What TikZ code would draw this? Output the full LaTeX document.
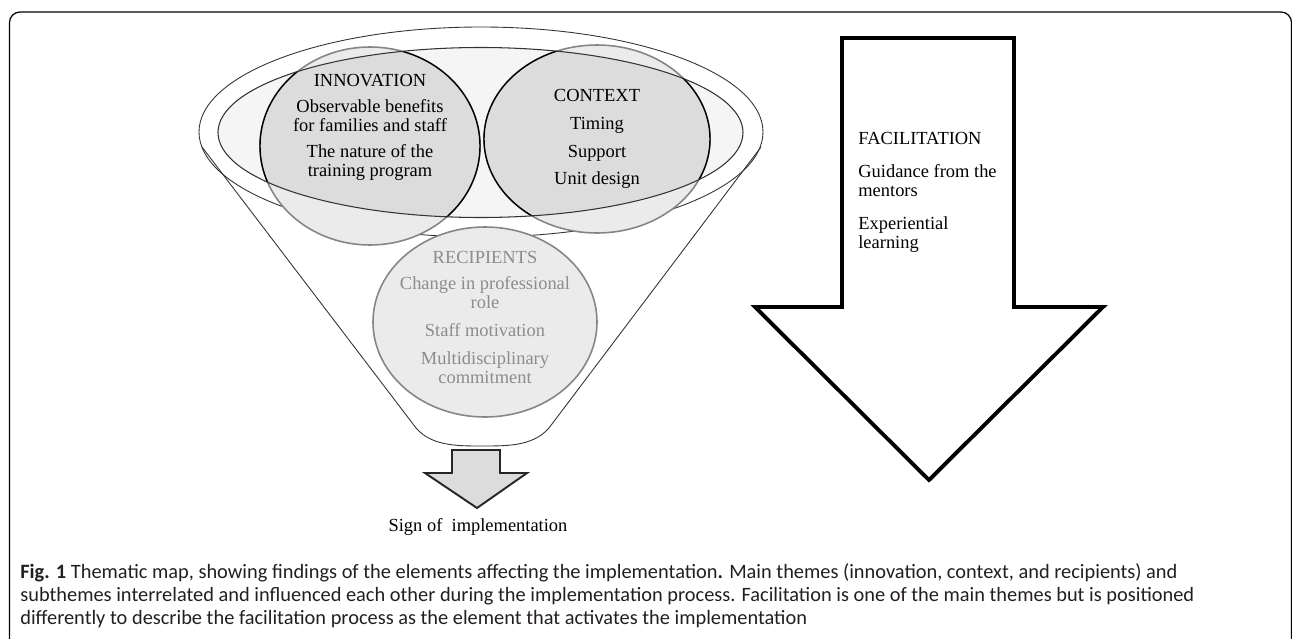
\documentclass[tikz,border=0pt]{standalone}
\usepackage{fontspec}
\setmainfont{Liberation Serif}
\newfontfamily\capfont{Carlito}
\usepackage{tikz}
\usetikzlibrary{positioning}

\definecolor{lightfill}{HTML}{EBEBEB}
\definecolor{darkfill}{HTML}{DCDCDC}
\definecolor{bowlfill}{HTML}{F5F5F5}
\definecolor{ringgray}{HTML}{858585}
\definecolor{recipgray}{HTML}{8C8C8C}
\definecolor{captext}{HTML}{231F20}

\begin{document}
\begin{tikzpicture}[x=0.02cm, y=-0.02cm,
    funnel/.style={draw=black!80, line width=0.5pt},
    theme/.style={fill=lightfill, draw=ringgray, line width=0.9pt},
    words/.style={font=\fontsize{10.5}{10.8}\selectfont, align=center, inner sep=0pt, anchor=north},
    bigarrow/.style={draw=black, fill=white, line width=2.2pt},
    smallarrow/.style={draw=black!85, fill=darkfill, line width=1.1pt},
    caption/.style={font=\capfont\fontsize{11.6}{13}\selectfont, text=captext, inner sep=0pt, anchor=base west}
]
\useasboundingbox (0,0) rectangle (1292,639);

% Frame
\draw[line width=0.7pt, rounded corners=6] (9.5,660) |- (1291.5,12) -- (1291.5,660);

% Funnel
\draw[funnel, fill=white] (481,132) ellipse [x radius=282, y radius=105];
\draw[funnel] (202,147) -- (413,424) .. controls (428,446) and (455,446) .. (482,446)
    .. controls (510,446) and (537,446) .. (552,424) -- (761,147);

% Inner bowl
\fill[bowlfill] (480.5,132.5) ellipse [x radius=262.5, y radius=85];

% Innovation and context
\draw[theme] (370,146) ellipse [x radius=110, y radius=99];
\draw[theme] (597,139) ellipse [x radius=113, y radius=94];
\begin{scope}
  \clip (480.5,132.5) ellipse [x radius=262.5, y radius=85];
  \draw[fill=darkfill, draw=black, line width=0.8pt] (370,146) ellipse [x radius=110, y radius=99];
  \draw[fill=darkfill, draw=black, line width=0.8pt] (597,139) ellipse [x radius=113, y radius=94];
\end{scope}
\draw[draw=black!80, line width=0.6pt] (480.5,132.5) ellipse [x radius=262.5, y radius=85];

% Recipients
\draw[theme] (485,322) ellipse [x radius=112, y radius=95];

% Texts
\node[words] (innov) at (370,74) {INNOVATION\\[4pt]Observable benefits\\for families and staff\\[4pt]The nature of the\\training program};
\node[words] (context) at (597,89) {CONTEXT\\[5pt]Timing\\[5pt]Support\\[5pt]Unit design};
\node[words, text=recipgray] (recip) at (485,251) {RECIPIENTS\\[4pt]Change in professional\\role\\[5pt]Staff motivation\\[5pt]Multidisciplinary\\commitment};

% Sign of implementation
\draw[smallarrow] (452,450) -- (500,450) -- (500,473) -- (527,473) -- (477,508)
    -- (425,473) -- (452,473) -- cycle;
\node[words, anchor=base] (sign) at (478,531) {Sign of\ \ implementation};

% Facilitation
\draw[bigarrow] (842,38) -- (1014,38) -- (1014,307) -- (1103,307) -- (929,480)
    -- (755,307) -- (842,307) -- cycle;
\node[words, align=left, anchor=north west] (facil) at (858,132) {FACILITATION\\[8pt]Guidance from the\\mentors\\[8pt]Experiential\\learning};

% Caption
\node[caption] (cap1) at (20,578) {\textbf{Fig. 1} Thematic map, showing findings of the elements affecting the implementation\textbf{.} Main themes (innovation, context, and recipients) and};
\node[caption] (cap2) at (20,601) {subthemes interrelated and influenced each other during the implementation process. Facilitation is one of the main themes but is positioned};
\node[caption] (cap3) at (20,624) {differently to describe the facilitation process as the element that activates the implementation};

\end{tikzpicture}
\end{document}
